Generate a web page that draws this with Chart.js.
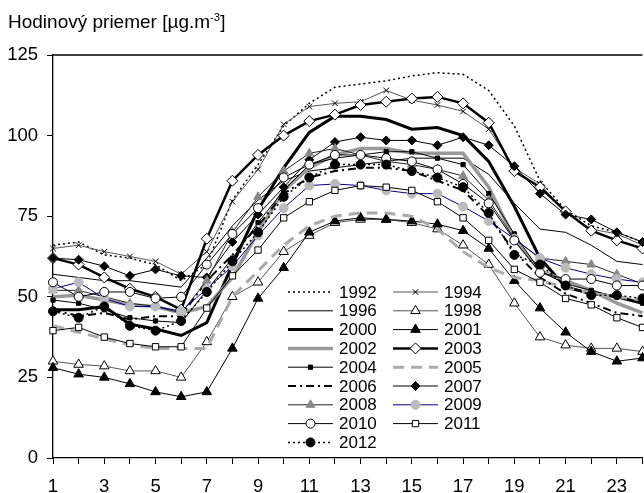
<!DOCTYPE html>
<html>
<head>
<meta charset="utf-8">
<script src="https://cdn.jsdelivr.net/npm/chart.js@4.4.1/dist/chart.umd.min.js"></script>
<style>
    body { margin: 0; background: #fff; overflow: hidden; }
    #wrap { position: relative; width: 644px; height: 493px; overflow: hidden; }
    #title { position: absolute; left: 8px; top: 11px; font: 19px Arial, "Liberation Sans", sans-serif; color: #000; line-height: 22px; white-space: nowrap; }
    #title sup { font-size: 0.6em; vertical-align: 0.65em; line-height: 0; }
</style>
</head>
<body>
<div id="wrap">
    <canvas id="myChart" width="649" height="493"></canvas>
    <div id="title">Hodinový priemer [µg.m<sup>-3</sup>]</div>
</div>
<script>
const hours = ['1', '2', '3', '4', '5', '6', '7', '8', '9', '10', '11', '12',
    '13', '14', '15', '16', '17', '18', '19', '20', '21', '22', '23', '24'];
const yTicks = [0, 25, 50, 75, 100, 125];

const s1992 = [66, 67, 63, 62, 60, 55, 60, 80, 91, 103, 110, 115, 116, 117, 118.5, 119.5, 119, 114, 103, 86, 77, 72, 70, 67];
const s1994 = [65, 66, 64, 62.5, 61, 57, 64, 79.5, 89.5, 103.5, 109, 110, 110.5, 114, 111, 109.5, 107.5, 102, 90, 85, 76, 71, 69.5, 66];
const s1996 = [57, 56, 55, 55, 54, 53, 62, 72, 80, 86, 89, 90, 91, 92, 93, 93, 93, 88, 79, 71, 70, 66, 61, 60];
const s1998 = [30, 29, 28.5, 27, 27, 25, 36, 50, 54.5, 64, 69, 73, 74, 74, 73, 71, 66, 60, 48, 37.5, 35, 34, 34, 33];
const s2000 = [46, 46, 47, 41.5, 40, 38, 42, 60, 77, 90, 101, 106, 106, 105, 102, 102.5, 100, 92, 78, 62, 53, 51, 50, 48];
const s2001 = [28, 26, 25, 23, 20.5, 19, 20.5, 34, 49.5, 59, 70, 73.5, 74.5, 74, 73.5, 72.5, 70.5, 65, 55, 46.5, 39, 33, 30, 31];
const s2002 = [50, 50.5, 49, 47.5, 47, 45, 47, 56, 70, 83, 90, 94, 96, 96, 94.5, 94.5, 94.5, 84, 68, 58, 55, 52, 48, 45];
const s2003 = [62, 60, 56, 52.5, 50, 46, 68, 86, 94, 100, 104.5, 106.5, 109.5, 110.5, 111.5, 112, 110, 104, 89, 84, 76.5, 70.5, 67.5, 65];
const s2004 = [49, 48, 46, 43.5, 42.5, 42, 52, 62, 73, 83, 91, 93, 94, 95, 95, 93, 91, 82, 69.5, 58, 54, 52, 50, 48];
const s2005 = [41, 39, 37, 35, 34, 34, 34, 50, 58, 66, 72, 75, 76, 76, 75, 71, 64, 59, 56, 55, 53, 51, 50, 49];
const s2006 = [46, 44, 45, 43, 44, 44, 55, 63, 72, 82, 87, 89, 90, 90, 89, 86, 83, 75, 64, 56, 51, 48, 45, 44];
const s2007 = [62, 61.5, 59.5, 56.5, 58.5, 56.5, 56, 67, 75.5, 84, 92.5, 98, 99.5, 98.5, 98.5, 97, 99.5, 97, 90.5, 82, 75.5, 74, 70, 67];
const s2008 = [52, 52, 50, 48, 47, 45, 55, 70, 81, 89, 94.5, 96, 94, 92, 91, 89.5, 87.5, 80, 68, 62, 61, 60, 57, 54];
const s2009 = [52.5, 54.5, 49.5, 47, 47, 45.5, 52.5, 59.5, 69, 77.5, 84.5, 85, 84.5, 83, 82, 82, 78, 73.5, 68, 62, 59, 57, 55.5, 54.5];
const s2010 = [54.5, 50, 51.5, 51.5, 49.5, 50, 60, 69.5, 77.5, 87, 91, 94, 94, 93, 92, 89.5, 85, 79, 67.5, 57.5, 55.5, 55.5, 53.5, 53.5];
const s2011 = [39.5, 40.5, 37.5, 35.5, 34.5, 34.5, 46.5, 56.5, 64.5, 74.5, 79.5, 83, 84.5, 84, 83, 79.5, 74.5, 67.5, 58.5, 54.5, 49.5, 47.5, 43.5, 40.5];
const s2012 = [45.5, 43.5, 47, 41, 39.5, 42.5, 51.5, 61, 70, 81, 87, 91, 91, 91, 89, 87, 84, 76, 63, 60, 53.5, 50.5, 50.5, 49.5];

const FONT = 'Arial, "Liberation Sans", sans-serif';

// helper for one series
function serie(label, data, line, width, dash, style, radius, fill, stroke) {
    return {
        label: label,
        data: data,
        borderColor: line,
        borderWidth: width,
        borderDash: dash,
        pointStyle: style || 'circle',
        pointRadius: radius || 0,
        pointHoverRadius: radius || 0,
        pointBackgroundColor: fill || '#000',
        pointBorderColor: stroke || '#000',
        pointBorderWidth: 1,
        tension: 0,
        fill: false
    };
}

const datasets = [
    serie('1992', s1992, '#000', 1.5, [2, 3]),
    serie('1994', s1994, '#555', 1, [], 'crossRot', 4, '#000', '#000'),
    serie('1996', s1996, '#000', 1, []),
    serie('1998', s1998, '#555', 1, [], 'triangle', 5.5, '#fff', '#000'),
    serie('2000', s2000, '#000', 3, []),
    serie('2001', s2001, '#000', 1, [], 'triangle', 5.5, '#000', '#000'),
    serie('2002', s2002, '#999', 3.5, []),
    serie('2003', s2003, '#000', 2.5, [], 'rectRot', 5.5, '#fff', '#000'),
    serie('2004', s2004, '#000', 1, [], 'rect', 3, '#000', '#000'),
    serie('2005', s2005, '#aaa', 3, [11, 7]),
    serie('2006', s2006, '#000', 2, [8, 4, 2, 4]),
    serie('2007', s2007, '#000', 1, [], 'rectRot', 4.5, '#000', '#000'),
    serie('2008', s2008, '#222', 1, [], 'triangle', 5, '#888', '#888'),
    serie('2009', s2009, '#000080', 1, [], 'circle', 4.5, '#bbb', '#bbb'),
    serie('2010', s2010, '#000', 1, [], 'circle', 4.5, '#fff', '#000'),
    serie('2011', s2011, '#000', 1, [], 'rect', 4.5, '#fff', '#000'),
    serie('2012', s2012, '#000', 1.5, [2, 3], 'circle', 4.5, '#000', '#000')
];
// later years on top
datasets.forEach(function (d, i) { d.order = datasets.length - i; });

//Legend inside plot area + top frame line
const boxLegend = {
    id: 'boxLegend',
    afterDraw: function (chart) {
        const c = chart.ctx;
        const a = chart.chartArea;
        c.save();
        c.strokeStyle = '#000';
        c.lineWidth = 1.3;
        c.beginPath();
        c.moveTo(a.left, a.top);
        c.lineTo(a.right, a.top);
        c.stroke();

        c.fillStyle = '#fff';
        c.fillRect(284, 282, 216, 170);
        chart.data.datasets.forEach(function (ds, i) {
            const x0 = (i % 2) ? 393 : 288;
            const y = 292 + Math.floor(i / 2) * 18.8;
            c.strokeStyle = ds.borderColor;
            c.lineWidth = ds.borderWidth;
            c.setLineDash(ds.borderDash);
            c.beginPath();
            c.moveTo(x0, y);
            c.lineTo(x0 + 45, y);
            c.stroke();
            c.setLineDash([]);
            if (ds.pointRadius > 0 && Chart.helpers && Chart.helpers.drawPoint) {
                c.fillStyle = ds.pointBackgroundColor;
                c.strokeStyle = ds.pointBorderColor;
                c.lineWidth = ds.pointBorderWidth;
                Chart.helpers.drawPoint(c, {
                    pointStyle: ds.pointStyle,
                    radius: ds.pointRadius,
                    rotation: 0,
                    borderWidth: ds.pointBorderWidth
                }, x0 + 22.5, y);
            }
            c.fillStyle = '#000';
            c.font = '17px ' + FONT;
            c.textBaseline = 'middle';
            c.textAlign = 'left';
            c.fillText(ds.label, x0 + 51, y + 1);
        });
        c.restore();
    }
};

const ctx = document.getElementById('myChart');
new Chart(ctx, {
    type: 'line',
    data: {
        labels: hours,
        datasets: datasets
    },
    plugins: [boxLegend],
    options: {
        responsive: false,
        animation: false,
        layout: {
            padding: { top: 55, left: 7, right: 0, bottom: 0 }
        },
        plugins: {
            legend: { display: false },
            tooltip: { enabled: false }
        },
        scales: {
            x: {
                offset: false,
                afterFit: function (scale) {
                    scale.height = 35;
                    scale.paddingLeft = 0;
                    scale.paddingRight = 0;
                },
                grid: { display: true, drawOnChartArea: false, drawTicks: true, tickLength: 6, color: '#000' },
                border: { display: true, color: '#000', width: 1.3 },
                ticks: {
                    autoSkip: false,
                    maxRotation: 0,
                    color: '#000',
                    padding: 14,
                    font: { family: FONT, size: 18.5, lineHeight: 1 },
                    callback: function (value, index) {
                        return index % 2 === 0 ? hours[index] : '';
                    }
                }
            },
            y: {
                min: yTicks[0],
                max: yTicks[yTicks.length - 1],
                afterBuildTicks: function (scale) {
                    scale.ticks = yTicks.map(function (v) { return { value: v }; });
                },
                afterFit: function (scale) {
                    scale.width = 46;
                },
                grid: { display: true, drawOnChartArea: false, drawTicks: true, tickLength: 6, color: '#000' },
                border: { display: true, color: '#000', width: 1.3 },
                ticks: {
                    color: '#000',
                    padding: 9,
                    font: { family: FONT, size: 18.5 }
                }
            }
        }
    }
});
</script>
</body>
</html>
